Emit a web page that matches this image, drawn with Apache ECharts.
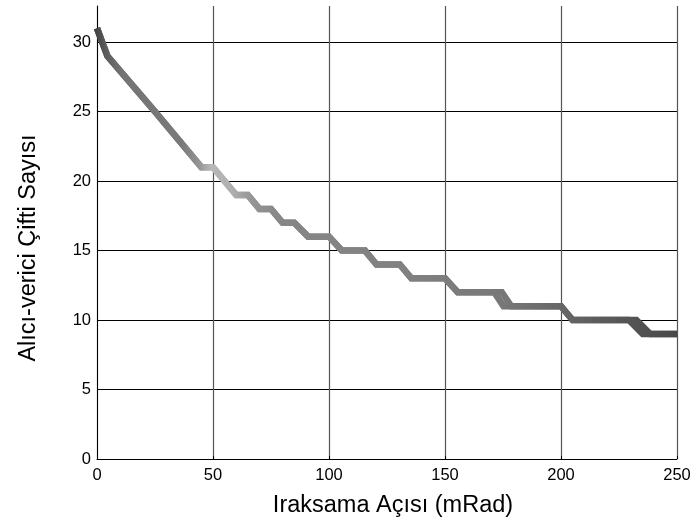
<!DOCTYPE html>
<html>
<head>
<meta charset="utf-8">
<script src="https://cdn.jsdelivr.net/npm/echarts@6/dist/echarts.min.js"></script>
<style>html,body{margin:0;padding:0;background:#fff}#c{width:696px;height:522px}</style>
</head>
<body>
<div id="c"></div>
<script>
// Main curve (x in mRad, y = pair count)
const xA = [0, 4.5, 25, 45, 50, 60, 65, 70, 75, 80, 85, 91, 100, 105.5, 115.5, 120.5, 130.5, 135.5, 150, 155.5, 174.5, 178.5, 200, 205, 232.5, 238.5, 250];
const yA = [31, 29, 25, 21, 21, 19, 19, 18, 18, 17, 17, 16, 16, 15, 15, 14, 14, 13, 13, 12, 12, 11, 11, 10, 10, 9, 9];
// Second, nearly identical curve (visible where steps split)
const xB = [0, 4.5, 25, 45, 50, 60, 65, 70, 75, 80, 85, 91, 100, 105.5, 115.5, 120.5, 130.5, 135.5, 150, 155.5, 171.2, 175.2, 200, 205, 229.2, 235.2, 250];
const yB = [31, 29, 25, 21, 21, 19, 19, 18, 18, 17, 17, 16, 16, 15, 15, 14, 14, 13, 13, 12, 12, 11, 11, 10, 10, 9, 9];
const xTicks = [0, 50, 100, 150, 200, 250];
const yTicks = [0, 5, 10, 15, 20, 25, 30];
const xTitle = 'Iraksama Açısı (mRad)';
const yTitle = 'Alıcı-verici Çifti Sayısı';

const pairs = (xs, ys) => xs.map((x, i) => [x, ys[i]]);
const grad = {
  type: 'linear', x: 0, y: 0, x2: 1, y2: 0,
  colorStops: [
    {offset: 0, color: '#3c3c3c'},
    {offset: 0.02, color: '#5c5c5c'},
    {offset: 0.05, color: '#747474'},
    {offset: 0.15, color: '#7a7a7a'},
    {offset: 0.18, color: '#959595'},
    {offset: 0.2, color: '#b8b8b8'},
    {offset: 0.235, color: '#b0b0b0'},
    {offset: 0.27, color: '#959595'},
    {offset: 0.32, color: '#868686'},
    {offset: 0.55, color: '#808080'},
    {offset: 0.7, color: '#777777'},
    {offset: 0.8, color: '#666666'},
    {offset: 0.9, color: '#565656'},
    {offset: 1, color: '#484848'}
  ]
};
const chart = echarts.init(document.getElementById('c'));
const font = 'Liberation Sans, Arial, sans-serif';
chart.setOption({
  animation: false,
  backgroundColor: '#fff',
  grid: {left: 97, right: 19, top: 6, bottom: 63},
  graphic: [
    {type: 'text', x: 393, y: 506,
     style: {text: xTitle, font: '23.5px ' + font, fill: '#000', align: 'center', verticalAlign: 'middle'}},
    {type: 'text', rotation: Math.PI / 2, x: 29, y: 248,
     style: {text: yTitle, font: '23.5px ' + font, fill: '#000', align: 'center', verticalAlign: 'middle'}}
  ],
  xAxis: {
    type: 'value', min: 0, max: 250, interval: 50,
    axisLine: {show: true, lineStyle: {color: '#000', width: 1}},
    axisTick: {show: true, inside: true, length: 3, lineStyle: {color: '#000'}},
    axisLabel: {fontFamily: font, fontSize: 16.5, color: '#000', margin: 8,
      formatter: v => xTicks.includes(v) ? String(v) : ''},
    splitLine: {show: true, lineStyle: {color: '#555', width: 1.2}}
  },
  yAxis: {
    type: 'value', min: 0, max: 32.6, interval: 5,
    axisLine: {show: true, lineStyle: {color: '#000', width: 1}},
    axisTick: {show: true, inside: true, length: 3, lineStyle: {color: '#000'}},
    axisLabel: {fontFamily: font, fontSize: 16.5, color: '#000', margin: 6, showMaxLabel: false,
      formatter: v => yTicks.includes(v) ? String(v) : ''},
    splitLine: {show: true, showMaxLine: false, lineStyle: {color: '#000', width: 1.2}}
  },
  series: [
    {type: 'line', data: pairs(xB, yB), showSymbol: false, symbol: 'none',
     lineStyle: {width: 6.5, color: grad, join: 'miter'}},
    {type: 'line', data: pairs(xA, yA), showSymbol: false, symbol: 'none',
     lineStyle: {width: 6.5, color: grad, join: 'miter'}}
  ]
});
</script>
</body>
</html>
